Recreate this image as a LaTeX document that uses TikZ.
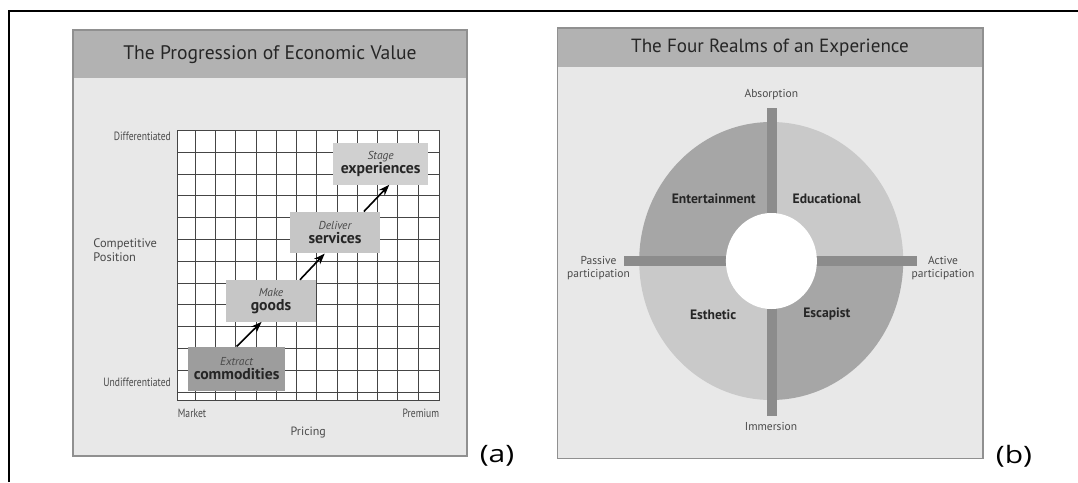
\documentclass[tikz,border=0pt]{standalone}
\usepackage{fontspec}
\setmainfont{PT Sans}
\newfontfamily\capfont[FakeStretch=1.25]{Open Sans}
\newfontfamily\narrowfont[FakeStretch=0.8]{PT Sans}
\usetikzlibrary{arrows.meta}

\definecolor{panelbg}{HTML}{E8E8E8}
\definecolor{bandgray}{HTML}{B2B2B2}
\definecolor{rimgray}{HTML}{909090}
\definecolor{gridgray}{HTML}{454545}
\definecolor{inkgray}{HTML}{262626}
\definecolor{softink}{HTML}{4A4A4A}
\definecolor{comfill}{HTML}{9D9D9D}
\definecolor{boxfill}{HTML}{C6C6C6}
\definecolor{expfill}{HTML}{D0D0D0}
\definecolor{darkq}{HTML}{A6A6A6}
\definecolor{lightq}{HTML}{C9C9C9}
\definecolor{bargray}{HTML}{8C8C8C}

\newcommand{\lead}[1]{{\fontsize{11.5}{12}\selectfont\mdseries\itshape\color{softink}#1}}

\begin{document}
\begin{tikzpicture}[x=1pt,y=-1pt,
  panel/.style={draw=rimgray,line width=1.6pt,fill=panelbg},
  band/.style={fill=bandgray},
  title/.style={font=\fontsize{19.6}{21}\selectfont,text=inkgray},
  gridline/.style={draw=gridgray,line width=1.2pt},
  stepbox/.style={rectangle,inner sep=0pt,align=center,text=inkgray,
    font=\fontsize{15.7}{15}\selectfont\bfseries},
  axis/.style={font=\narrowfont\fontsize{12}{13}\selectfont,text=softink,inner sep=0pt},
  side/.style={font=\fontsize{11.5}{13.3}\selectfont,text=softink,align=center,inner sep=0pt},
  realm/.style={font=\fontsize{13.6}{15}\selectfont\bfseries,text=inkgray,inner sep=0pt},
  tag/.style={font=\capfont\fontsize{24}{26}\selectfont,inner sep=0pt},
  climb/.style={-{Stealth[length=11pt,width=8pt]},line width=1.6pt}]
\useasboundingbox (0,0) rectangle (1078,482);
\draw[line width=2pt] (9,482) -- (9,11) -- (1078,11);

\draw[panel] (72.7,30) rectangle (467,456);
\fill[band] (73.5,30.8) rectangle (466.2,78);
\node[title] (ptitle) at (270,55) {The Progression of Economic Value};

\fill[white] (177.5,130) rectangle (439.5,400);
\foreach \i in {0,...,11}
  \draw[gridline] ({round(195+20.24*\i)+0.5},130) -- ({round(195+20.24*\i)+0.5},400);
\foreach \j in {1,...,12}
  \draw[gridline] (177.5,{round(130+21.8*\j)+0.5}) -- (439.5,{round(130+21.8*\j)+0.5});
\draw[gridline] (177.5,130.5) rectangle (439.5,400.5);

\node[stepbox,fill=comfill,minimum width=96.7pt,minimum height=44pt] (com) at (236.6,368.7)
  {\lead{Extract}\\[-1pt]commodities};
\node[stepbox,fill=boxfill,minimum width=90pt,minimum height=41.7pt] (goods) at (271,300.8)
  {\lead{Make}\\[-1pt]goods};
\node[stepbox,fill=boxfill,minimum width=90pt,minimum height=41.6pt] (serv) at (335,232.5)
  {\lead{Deliver}\\[-1pt]services};
\node[stepbox,fill=expfill,minimum width=95.5pt,minimum height=42pt] (exp) at (380.7,163.6)
  {\lead{Stage}\\[-1pt]experiences};

\draw[climb] (com.north) -- (goods.246);
\draw[climb] (goods.36) -- (serv.244);
\draw[climb] (serv.36) -- (exp.292);

\node[axis,anchor=east] (diff) at (171,136.5) {Differentiated};
\node[axis,anchor=east] (undiff) at (171,382.7) {Undifferentiated};
\node[side,anchor=west,align=left,font=\fontsize{12.4}{14.3}\selectfont] (comp) at (93.2,250) {Competitive\\Position};
\node[axis,anchor=west] (market) at (177.7,413.3) {Market};
\node[axis,anchor=east] (premium) at (439.3,413.3) {Premium};
\node[side,font=\fontsize{12}{13}\selectfont] (pricing) at (308.3,432.3) {Pricing};
\node[tag] (taga) at (497,456) {(a)};

\draw[panel] (557.3,27.7) rectangle (983,458.5);
\fill[band] (558.1,28.5) rectangle (982.2,66.7);
\node[title,font=\fontsize{19.1}{21}\selectfont] (rtitle) at (770,47.5) {The Four Realms of an Experience};

\fill[darkq] (771.2,261) -- ++(-132,0) arc[start angle=180,end angle=270,x radius=132,y radius=139] -- cycle;
\fill[lightq] (771.2,261) -- ++(0,-139) arc[start angle=270,end angle=360,x radius=132,y radius=139] -- cycle;
\fill[darkq] (771.2,261) -- ++(132,0) arc[start angle=0,end angle=90,x radius=132,y radius=139] -- cycle;
\fill[lightq] (771.2,261) -- ++(0,139) arc[start angle=90,end angle=180,x radius=132,y radius=139] -- cycle;
\fill[bargray] (766.9,108.2) rectangle (776.5,416);
\fill[bargray] (624.1,256.2) rectangle (916.5,266.2);
\fill[white] (771.4,261) ellipse[x radius=45.5,y radius=48];

\node[realm] (ent) at (713.8,198.7) {Entertainment};
\node[realm] (edu) at (826.8,198.7) {Educational};
\node[realm] (est) at (713.1,314.5) {Esthetic};
\node[realm] (esc) at (826.8,314.5) {Escapist};

\node[side] (absorb) at (771.3,94.9) {Absorption};
\node[side] (immerse) at (771,426.6) {Immersion};
\node[side] (passive) at (598.5,268) {Passive\\participation};
\node[side] (active) at (943,268) {Active\\participation};
\node[tag] (tagb) at (1014,456) {(b)};
\end{tikzpicture}
\end{document}
